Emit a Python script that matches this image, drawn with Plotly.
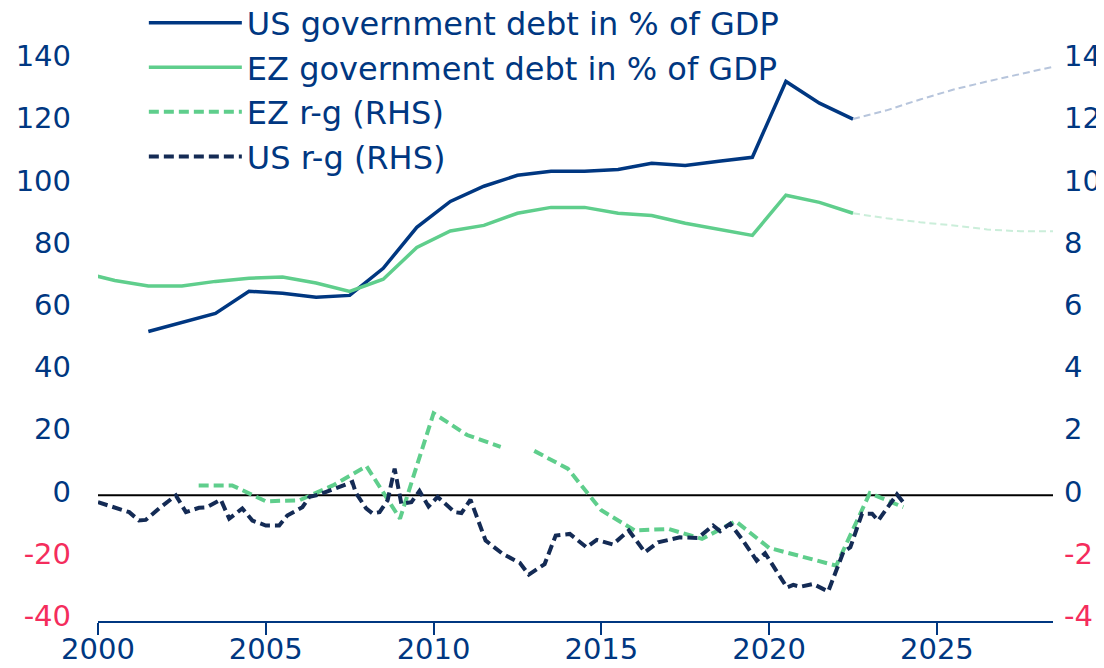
import plotly.graph_objects as go

NAVY = "#003781"
GREEN = "#5fce8c"
DARK = "#142b55"
RED = "#f42d5c"
FONT = "DejaVu Sans"

# Government debt, % of GDP (annual, plotted mid-year)
us_debt_years = [2001.5, 2002.5, 2003.5, 2004.5, 2005.5, 2006.5, 2007.5, 2008.5, 2009.5, 2010.5, 2011.5,
                 2012.5, 2013.5, 2014.5, 2015.5, 2016.5, 2017.5, 2018.5, 2019.5, 2020.5, 2021.5, 2022.5]
us_debt = [52.7, 55.6, 58.5, 65.6, 65.0, 63.7, 64.3, 73.0, 86.2, 94.5, 99.4,
           102.9, 104.2, 104.2, 104.8, 106.8, 106.1, 107.4, 108.7, 133.1, 126.1, 121.0]

ez_debt_years = [1999.5, 2000.5, 2001.5, 2002.5, 2003.5, 2004.5, 2005.5, 2006.5, 2007.5, 2008.5, 2009.5, 2010.5,
                 2011.5, 2012.5, 2013.5, 2014.5, 2015.5, 2016.5, 2017.5, 2018.5, 2019.5, 2020.5, 2021.5, 2022.5]
ez_debt = [71.7, 69.1, 67.3, 67.3, 68.8, 69.8, 70.2, 68.3, 65.6, 69.5, 79.7, 85.0,
           86.8, 90.7, 92.6, 92.6, 90.7, 90.0, 87.5, 85.5, 83.6, 96.5, 94.2, 90.7]

# Projections
proj_years = [2022.5, 2023.5, 2024.5, 2025.5, 2026.5, 2027.5, 2028.5]
us_debt_proj = [121.0, 123.8, 127.3, 130.5, 133.1, 135.4, 137.9]
ez_debt_proj = [90.7, 89.1, 87.8, 86.8, 85.5, 84.9, 84.9]

# EZ r-g (RHS, %), annual
ez_rg_years = [2003, 2004, 2005, 2006, 2007, 2008, 2009, 2010, 2011, 2012, 2012.5, 2013, 2014,
               2015, 2016, 2017, 2018, 2019, 2020, 2022, 2023, 2024]
ez_rg = [0.32, 0.32, -0.19, -0.16, 0.32, 0.94, -0.75, 2.64, 1.94, 1.56, None, 1.43, 0.86,
         -0.48, -1.13, -1.08, -1.40, -0.83, -1.69, -2.26, 0.07, -0.38]

# US r-g (RHS, %)
us_rg_t = [2000.0, 2000.93, 2001.22, 2001.42, 2001.82, 2002.32, 2002.62, 2003.01, 2003.25, 2003.66, 2003.91,
           2004.3, 2004.6, 2005.0, 2005.4, 2005.64, 2006.09, 2006.3, 2006.6, 2007.58, 2007.69, 2007.99,
           2008.18, 2008.39, 2008.63, 2008.84, 2009.04, 2009.34, 2009.58, 2009.85, 2010.12, 2010.63,
           2010.83, 2011.1, 2011.55, 2012.06, 2012.57, 2012.84, 2013.31, 2013.64, 2014.06, 2014.56,
           2014.86, 2015.34, 2015.82, 2016.3, 2016.69, 2017.34, 2017.88, 2018.33, 2018.54, 2018.84,
           2019.22, 2019.63, 2019.88, 2020.53, 2020.72, 2020.93, 2021.31, 2021.76, 2022.21, 2022.42,
           2022.77, 2023.07, 2023.25, 2023.81, 2024.03]
us_rg = [-0.22, -0.54, -0.81, -0.79, -0.42, 0.0, -0.54, -0.40, -0.38, -0.14, -0.75,
         -0.42, -0.81, -0.97, -0.97, -0.65, -0.38, -0.05, 0.03, 0.43, 0.07, -0.42,
         -0.58, -0.54, -0.16, 0.86, -0.27, -0.22, 0.14, -0.36, -0.05, -0.54,
         -0.57, -0.14, -1.45, -1.88, -2.17, -2.55, -2.21, -1.29, -1.24, -1.67,
         -1.43, -1.58, -1.13, -1.83, -1.51, -1.35, -1.37, -0.97, -1.15, -0.91,
         -1.45, -2.10, -1.86, -2.96, -2.88, -2.94, -2.85, -3.09, -1.83, -1.67,
         -0.59, -0.59, -0.81, 0.03, -0.27]

x_ticks = [2000, 2005, 2010, 2015, 2020, 2025]
left_ticks = [-40, -20, 0, 20, 40, 60, 80, 100, 120, 140]
right_ticks = [-4, -2, 0, 2, 4, 6, 8, 10, 12, 14]


def colored(vals):
    return [f'<span style="color:{RED}">{v}</span>' if v < 0 else str(v) for v in vals]


fig = go.Figure()
fig.add_trace(go.Scatter(x=us_debt_years, y=us_debt, mode="lines", name="US government debt in % of GDP",
                         line=dict(color=NAVY, width=3.5), legendgroup="a"))
fig.add_trace(go.Scatter(x=ez_debt_years, y=ez_debt, mode="lines", name="EZ government debt in % of GDP",
                         line=dict(color=GREEN, width=3.5), legendgroup="b"))
fig.add_trace(go.Scatter(x=proj_years, y=us_debt_proj, mode="lines", showlegend=False,
                         line=dict(color="#b7c5dc", width=2, dash="7px,4px")))
fig.add_trace(go.Scatter(x=proj_years, y=ez_debt_proj, mode="lines", showlegend=False,
                         line=dict(color="#cbeeda", width=2, dash="7px,4px")))
fig.add_trace(go.Scatter(x=ez_rg_years, y=ez_rg, mode="lines", name="EZ r-g (RHS)", yaxis="y2",
                         connectgaps=False, line=dict(color=GREEN, width=4, dash="10px,5px"), legendgroup="c"))
fig.add_trace(go.Scatter(x=us_rg_t, y=us_rg, mode="lines", name="US r-g (RHS)", yaxis="y2",
                         line=dict(color=DARK, width=4, dash="10px,5px"), legendgroup="d"))

fig.add_shape(type="line", xref="paper", x0=0, x1=1, yref="y2", y0=0, y1=0,
              line=dict(color="#000000", width=2), layer="below")

ylo, yhi = -40.4, 152.85
fig.update_layout(
    width=1096, height=660,
    margin=dict(l=90, r=51, t=12, b=47, autoexpand=False),
    paper_bgcolor="white", plot_bgcolor="white",
    font=dict(family=FONT, color=NAVY, size=29),
    showlegend=True,
    legend=dict(x=0.048, xref="paper", y=1.041, yref="paper", yanchor="top", xanchor="left",
                font=dict(size=32, color=NAVY, family=FONT), bgcolor="rgba(0,0,0,0)",
                itemwidth=93, tracegroupgap=0, traceorder="normal"),
    xaxis=dict(range=[2000, 2028.46], tickvals=x_ticks, ticktext=[str(v) for v in x_ticks],
               showgrid=False, zeroline=False, showline=True, linecolor=NAVY, linewidth=2,
               ticks="outside", ticklen=12, tickwidth=2, tickcolor=NAVY,
               ticklabelstandoff=-11,
               tickfont=dict(size=29, color=NAVY, family=FONT)),
    yaxis=dict(range=[ylo, yhi], tickvals=left_ticks, ticktext=colored(left_ticks),
               showgrid=False, zeroline=False, showline=False, ticks="",
               ticklabelstandoff=26, ticklabelshift=-4,
               tickfont=dict(size=29, color=NAVY, family=FONT)),
    yaxis2=dict(range=[ylo / 10, yhi / 10], overlaying="y", side="right",
                tickvals=right_ticks, ticktext=colored(right_ticks),
                showgrid=False, zeroline=False, showline=False, ticks="",
                ticklabelstandoff=10, ticklabelshift=-4,
                tickfont=dict(size=29, color=NAVY, family=FONT)),
)

fig.write_html("out.html")
